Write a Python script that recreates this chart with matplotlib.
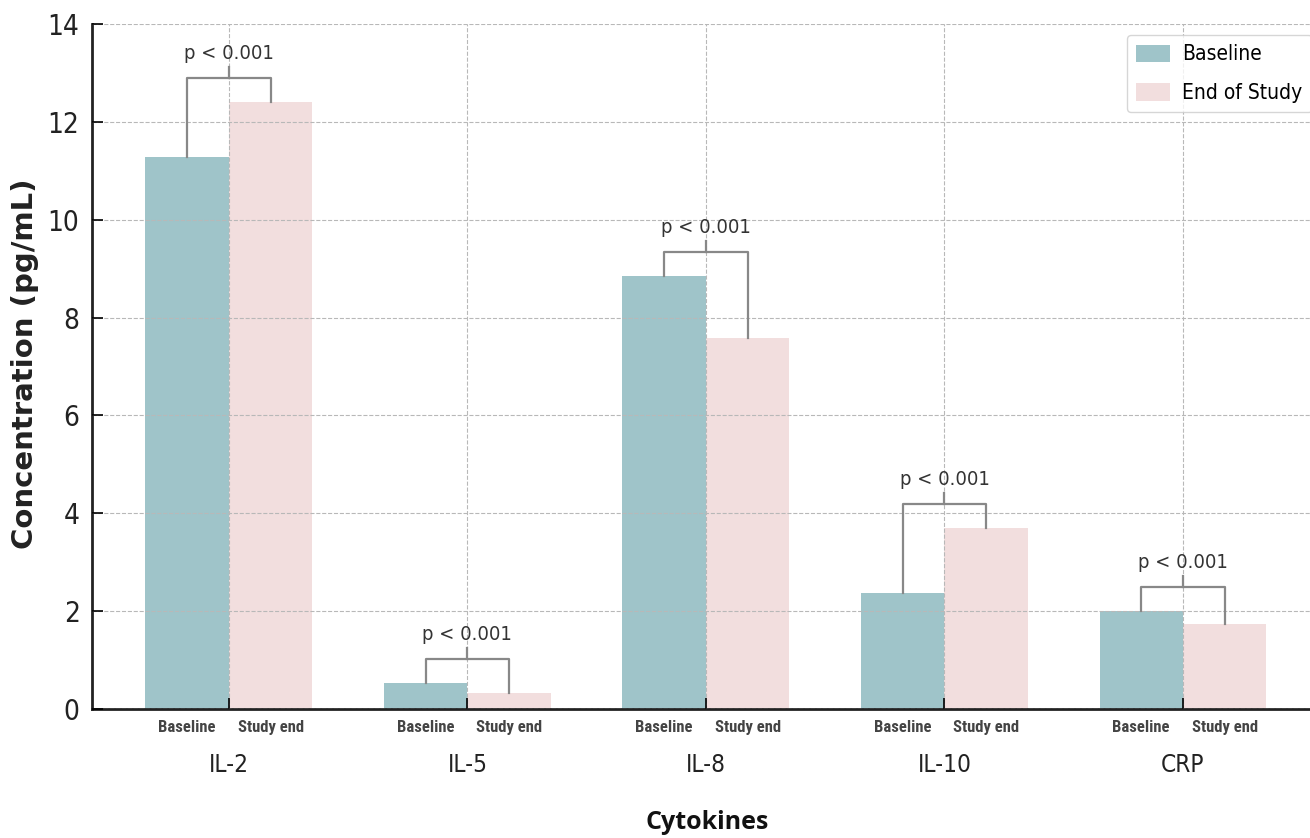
import numpy as np
import matplotlib
matplotlib.use("Agg")
import matplotlib.pyplot as plt

plt.rcParams["font.family"] = ["DejaVu Sans"]
plt.rcParams["font.stretch"] = "condensed"

cytokines = ["IL-2", "IL-5", "IL-8", "IL-10", "CRP"]
baseline = [11.28, 0.53, 8.85, 2.37, 2.00]
study_end = [12.40, 0.32, 7.58, 3.70, 1.74]
p_text = ["p < 0.001"] * 5
sub_labels = ["Baseline", "Study end"]

teal = "#9fc4c9"
pink = "#f2dede"
w = 0.35
x = np.arange(len(cytokines))

fig = plt.figure(figsize=(13.1, 8.38), dpi=100)
ax = fig.add_axes([92/1310, 1-709/838, 1231/1310, 685/838])

ax.bar(x - w/2, baseline, w, color=teal, label="Baseline", zorder=1)
ax.bar(x + w/2, study_end, w, color=pink, label="End of Study", zorder=1)

# significance brackets
for i in range(len(x)):
    top = max(baseline[i], study_end[i]) + 0.5
    ax.plot([x[i]-w/2, x[i]-w/2, x[i]+w/2, x[i]+w/2],
            [baseline[i], top, top, study_end[i]], color="#888888", lw=1.6, zorder=3)
    ax.plot([x[i], x[i]], [top, top+0.22], color="#888888", lw=1.6, zorder=3)
    ax.text(x[i], top+0.3, p_text[i], ha="center", va="bottom", fontsize=14.5, color="#333333")

ax.set_xlim(-0.574, 4.587)
ax.set_ylim(0, 14)
ax.set_yticks(range(0, 15, 2))
ax.set_xticks(x)
ax.set_xticklabels(cytokines, fontsize=17.5, color="#222222")
ax.set_xticks(np.concatenate([x - w/2, x + w/2]), minor=True)
ax.set_xticklabels(sub_labels[:1]*5 + sub_labels[1:]*5, minor=True,
                   fontsize=12, fontweight="bold", color="#444444",
                   family=["Roboto Condensed", "DejaVu Sans"])
ax.tick_params(axis="x", which="major", direction="in", length=8, width=1.2, pad=32)
ax.tick_params(axis="x", which="minor", length=0, pad=8)
ax.tick_params(axis="y", direction="in", length=8, width=1.2, labelsize=20, pad=9, labelcolor="#222222")

ax.grid(True, which="major", linestyle="--", color="#b8b8b8", lw=0.8, zorder=2)
ax.set_axisbelow(False)
for s in ["top", "right"]:
    ax.spines[s].set_visible(False)
for s in ["left", "bottom"]:
    ax.spines[s].set_linewidth(2)
    ax.spines[s].set_color("#222222")

fig.text(25/1310, 1-364/838, "Concentration (pg/mL)", rotation=90, ha="center", va="center",
         fontsize=21, fontweight="bold", fontstretch="normal", color="#222222")
fig.text(707/1310, 1-822/838, "Cytokines", ha="center", va="center",
         fontsize=18, fontweight="bold", family=["Open Sans", "DejaVu Sans"], color="#111111")

ax.legend(loc="upper left", bbox_to_anchor=(1127/1310, 1-35/838), bbox_transform=fig.transFigure,
          borderaxespad=0, fontsize=15, handlelength=1.6, handleheight=0.9, handletextpad=0.6,
          labelspacing=0.9, borderpad=0.45, frameon=True, edgecolor="#cccccc")

fig.savefig("out.png", dpi=100)
